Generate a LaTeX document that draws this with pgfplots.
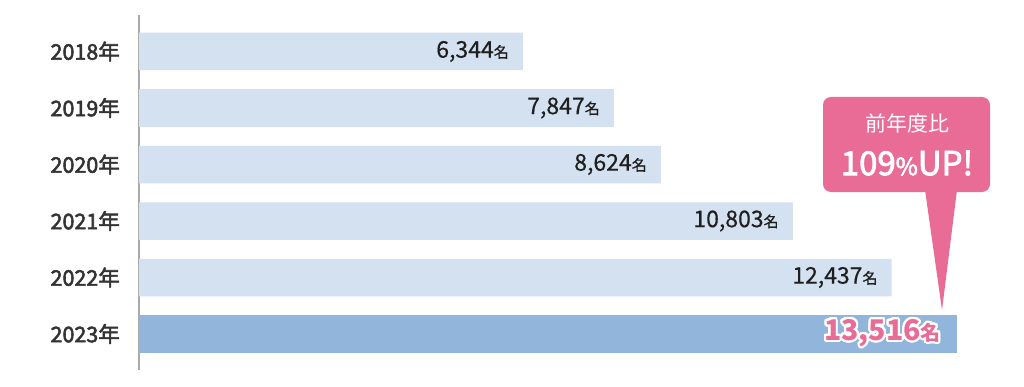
\documentclass[border=0pt]{standalone}
\usepackage{fontspec}
\setmainfont{Noto Sans CJK JP}
\newfontfamily\jpmed[FakeBold=2.5]{Noto Sans CJK JP}
\newfontfamily\jpval[FakeBold=0.4]{Noto Sans CJK JP}
\usepackage{pgfplots}
\pgfplotsset{compat=1.18}
\usepackage{contour}
\contournumber{32}
\definecolor{barlight}{RGB}{211,225,240}
\definecolor{bardark}{RGB}{146,181,219}
\definecolor{pinkc}{RGB}{232,108,150}
\definecolor{axisgray}{RGB}{170,170,170}
\definecolor{labelc}{RGB}{51,51,51}
\begin{document}
\begin{tikzpicture}[x=1pt,y=1pt]
\useasboundingbox (0,0) rectangle (1024,386);
\begin{axis}[
  at={(139pt,16pt)}, anchor=south west,
  scale only axis, width=862pt, height=355pt,
  xmin=0, xmax=14243, ymin=-0.637, ymax=5.646,
  axis x line=none, axis y line*=left,
  y axis line style={draw=axisgray, line width=1.3pt, -},
  ytick={0,1,2,3,4,5},
  yticklabels={2023年,2022年,2021年,2020年,2019年,2018年},
  major tick length=0pt,
  yticklabel style={font=\jpmed\fontsize{21.5}{24}\selectfont, text=labelc, anchor=east, inner sep=0pt, xshift=-19pt},
  clip=false,
  /pgf/number format/.cd, fixed, precision=0, 1000 sep={,}, assume math mode=true,
]
\addplot[xbar, bar width=37.5pt, bar shift=0pt, fill=barlight, draw=none,
  point meta=x,
  nodes near coords={\pgfmathprintnumber{\pgfplotspointmeta}{\fontsize{15}{15}\selectfont 名}},
  every node near coord/.append style={anchor=east, xshift=-14pt, inner sep=0pt, font=\jpval\fontsize{23}{26}\selectfont, text=black!88},
] coordinates {(6344,5) (7847,4) (8624,3) (10803,2) (12437,1)};
\addplot[xbar, bar width=37.5pt, bar shift=0pt, fill=bardark, draw=none,
  point meta=x,
  nodes near coords={\contourlength{2pt}\contour{white}{\textcolor{pinkc}{\pgfmathprintnumber{\pgfplotspointmeta}{\fontsize{20}{20}\selectfont 名}}}},
  every node near coord/.append style={anchor=east, xshift=-16pt, inner sep=0pt, font=\bfseries\fontsize{28.5}{30}\selectfont, text=pinkc},
] coordinates {(13516,0)};
\end{axis}
% callout
\fill[pinkc, rounded corners=8pt] (823,194) rectangle (990,289);
\fill[pinkc] (925,196) -- (957,196) -- (942,76) -- cycle;
\node[text=white, font=\fontsize{21}{24}\selectfont] at (907,263) {前年度比};
\node[text=white, font=\jpmed\fontsize{33}{36}\selectfont] at (907,223) {109{\fontsize{24}{26}\selectfont\%}UP!};
\end{tikzpicture}
\end{document}
